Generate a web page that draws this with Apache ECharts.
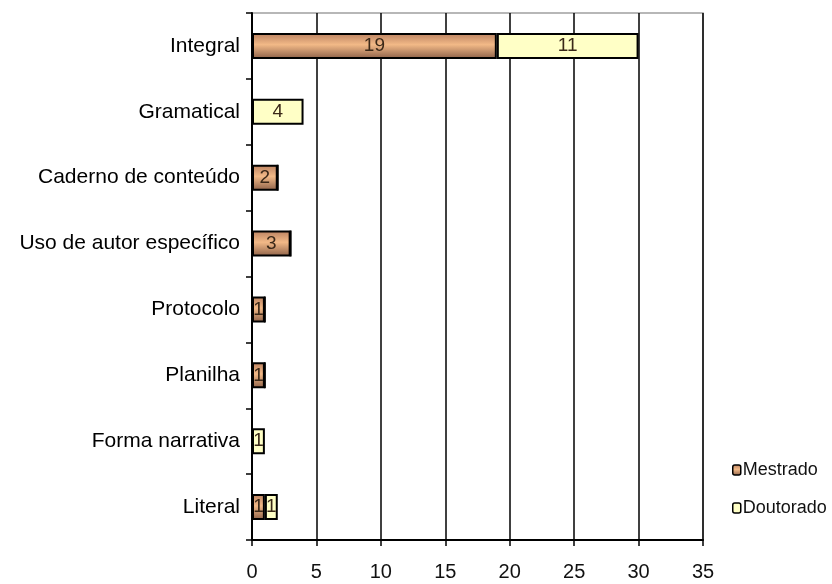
<!DOCTYPE html>
<html>
<head>
<meta charset="utf-8">
<script src="https://cdn.jsdelivr.net/npm/echarts@6/dist/echarts.min.js"></script>
<style>html,body{margin:0;padding:0;background:#fff}#c{width:832px;height:584px}</style>
</head>
<body>
<div id="c"></div>
<script>
var categories = ['Integral', 'Gramatical', 'Caderno de conteúdo', 'Uso de autor específico', 'Protocolo', 'Planilha', 'Forma narrativa', 'Literal'];
var mestrado = [19, 0, 2, 3, 1, 1, 0, 1];
var doutorado = [11, 4, 0, 0, 0, 0, 1, 1];
var xTicks = [0, 5, 10, 15, 20, 25, 30, 35];

var FONT = '"Liberation Sans", Arial, sans-serif';
var chart = echarts.init(document.getElementById('c'));
var brown = new echarts.graphic.LinearGradient(0, 0, 0, 1, [
  {offset: 0, color: '#b98060'},
  {offset: 0.45, color: '#f2b987'},
  {offset: 1, color: '#8c6048'}
]);
function lbl(p) { return p.value ? String(p.value) : ''; }
chart.setOption({
  animation: false,
  backgroundColor: '#fff',
  grid: {left: 252, right: 129, top: 13, bottom: 44, show: true, borderColor: '#a0a0a0', borderWidth: 1.5},
  legend: {
    orient: 'vertical', left: 727, top: 456, itemGap: 20,
    itemWidth: 8, itemHeight: 10,
    textStyle: {fontFamily: FONT, fontSize: 18, color: '#111', padding: [0, 0, 0, -3]},
    data: [
      {name: 'Mestrado', itemStyle: {borderColor: '#000', borderWidth: 1.5}},
      {name: 'Doutorado', itemStyle: {borderColor: '#000', borderWidth: 1.5}}
    ]
  },
  xAxis: {
    type: 'value', min: 0, max: 35, interval: 5,
    axisLine: {show: true, lineStyle: {color: '#000', width: 2}},
    axisTick: {show: true, length: 6, lineStyle: {color: '#000', width: 1.5}},
    axisLabel: {fontFamily: FONT, fontSize: 20, color: '#111', margin: 22,
      formatter: function (v) { return xTicks.indexOf(v) >= 0 ? String(v) : ''; }},
    splitLine: {show: true, lineStyle: {color: '#000', width: 1.5}}
  },
  yAxis: {
    type: 'category', inverse: true, data: categories,
    axisLine: {show: true, lineStyle: {color: '#000', width: 2}},
    axisTick: {show: true, length: 6, lineStyle: {color: '#000', width: 1.5}},
    axisLabel: {fontFamily: FONT, fontSize: 21, color: '#000', margin: 12}
  },
  series: [
    {
      name: 'Mestrado', type: 'bar', stack: 't', data: mestrado, barWidth: 26,
      itemStyle: {color: brown, borderColor: '#000', borderWidth: 2},
      label: {show: true, position: 'inside', formatter: lbl, fontFamily: FONT, fontSize: 19, color: '#3a2818'}
    },
    {
      name: 'Doutorado', type: 'bar', stack: 't', data: doutorado, barWidth: 26,
      itemStyle: {color: '#ffffc6', borderColor: '#000', borderWidth: 2},
      label: {show: true, position: 'inside', formatter: lbl, fontFamily: FONT, fontSize: 19, color: '#3a2818'}
    }
  ]
});
</script>
</body>
</html>
